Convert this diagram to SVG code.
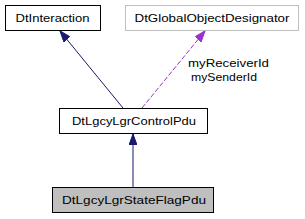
<svg xmlns="http://www.w3.org/2000/svg" width="305" height="219" viewBox="0 0 305 219">
<style>
.box{fill:#ffffff;stroke:#000000;stroke-width:1}
.grey{stroke:#bfbfbf}
.cur{fill:#bfbfbf}
text{font-family:"Liberation Sans",Arial,sans-serif;font-size:11px;fill:#000000}
.c{text-anchor:middle}
.inh{stroke:#191970;stroke-width:1;fill:none}
.use{stroke:#9a32cd;stroke-width:1;fill:none;stroke-dasharray:5,2}
</style>
<defs>
<marker id="ah" markerUnits="userSpaceOnUse" markerWidth="12" markerHeight="8" refX="11" refY="4" orient="auto">
<path d="M0,0 L11,4 L0,8 z" fill="#191970" stroke="#191970"/>
</marker>
<marker id="ap" markerUnits="userSpaceOnUse" markerWidth="12" markerHeight="8" refX="11" refY="4" orient="auto">
<path d="M0,0 L11,4 L0,8 z" fill="#9a32cd" stroke="#9a32cd"/>
</marker>
</defs>
<g id="connectors">
<line class="inh" x1="123" y1="108" x2="60" y2="31" marker-end="url(#ah)"/>
<line class="use" x1="142" y1="108" x2="205" y2="31" marker-end="url(#ap)"/>
<line class="inh" x1="133" y1="187" x2="133" y2="134" marker-end="url(#ah)"/>
<text x="188" y="67" textLength="81" lengthAdjust="spacingAndGlyphs">myReceiverId</text>
<text x="191" y="81" textLength="66" lengthAdjust="spacingAndGlyphs">mySenderId</text>
</g>
<g id="DtInteraction">
<rect class="box" x="5.5" y="5.5" width="95" height="25"/>
<text class="c" x="52.5" y="21.5" textLength="74" lengthAdjust="spacingAndGlyphs">DtInteraction</text>
</g>
<g id="DtGlobalObjectDesignator">
<rect class="box grey" x="125.5" y="5.5" width="173" height="25"/>
<text class="c" x="212" y="21.5" textLength="155" lengthAdjust="spacingAndGlyphs">DtGlobalObjectDesignator</text>
</g>
<g id="DtLgcyLgrControlPdu">
<rect class="box" x="59.5" y="108.5" width="148" height="25"/>
<text class="c" x="134" y="124.5" textLength="124" lengthAdjust="spacingAndGlyphs">DtLgcyLgrControlPdu</text>
</g>
<g id="DtLgcyLgrStateFlagPdu">
<rect class="box cur" x="52.5" y="187.5" width="161" height="25"/>
<text class="c" x="134" y="203.5" textLength="144" lengthAdjust="spacingAndGlyphs">DtLgcyLgrStateFlagPdu</text>
</g>
</svg>
